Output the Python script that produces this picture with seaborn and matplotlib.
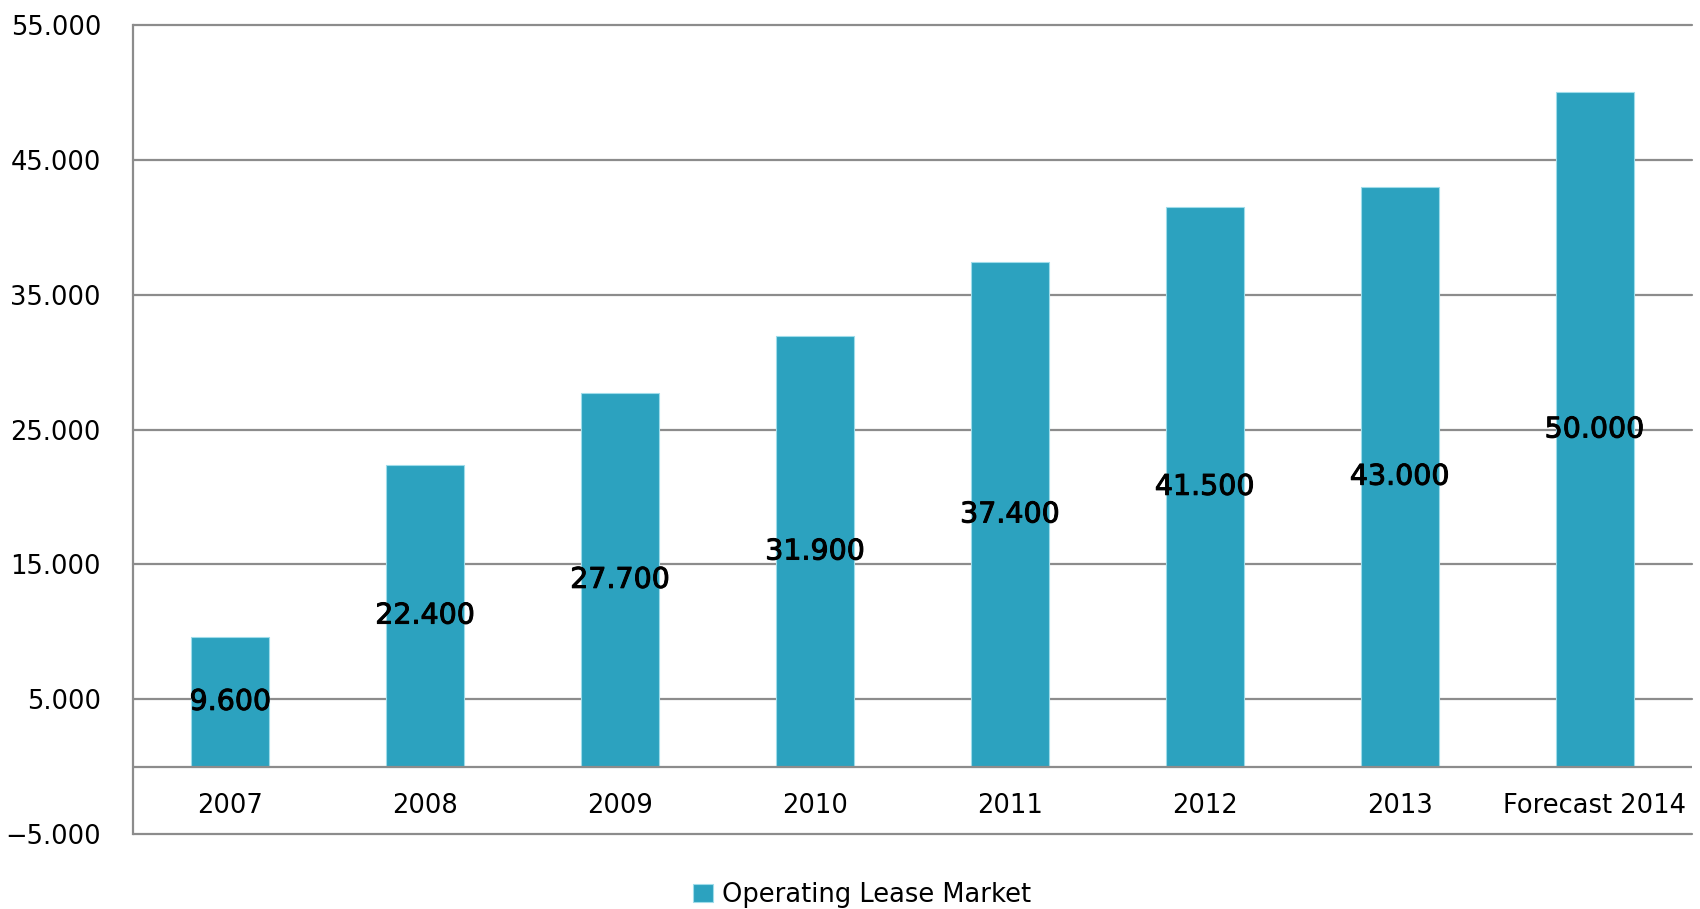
import pandas as pd
import matplotlib.pyplot as plt
import matplotlib.patheffects as pe
import seaborn as sns

# data
years = ['2007', '2008', '2009', '2010', '2011', '2012', '2013', 'Forecast 2014']
market = [9600, 22400, 27700, 31900, 37400, 41500, 43000, 50000]
y_ticks = [-5000, 5000, 15000, 25000, 35000, 45000, 55000]
series_name = 'Operating Lease Market'

bar_color = '#2ca2bf'
grid_color = '#8c8c8c'


def fmt(v):
    s = '{:,.0f}'.format(abs(v)).replace(',', '.')
    return ('\u2212' + s) if v < 0 else s


def main():
    sns.set_style('white')
    plt.rcParams['font.family'] = ['DejaVu Sans']
    plt.rcParams['text.color'] = 'black'

    df = pd.DataFrame({'year': years, 'value': market})

    fig = plt.figure(figsize=(17, 9.09), dpi=100)
    ax = fig.add_axes([0.0782, 0.0825, 0.9171, 0.89])

    sns.barplot(data=df, x='year', y='value', color=bar_color, width=0.4,
                saturation=1, edgecolor='#9fdcea', linewidth=0.8,
                label=series_name, ax=ax, zorder=3)

    ax.set_ylim(-5000, 55000)
    ax.set_xlim(-0.5, len(years) - 0.5)
    ax.set_yticks(y_ticks)
    ax.set_yticklabels([fmt(v) for v in y_ticks], fontsize=18.5, color='black')
    ax.tick_params(axis='y', length=0, pad=23)
    ax.set_xticks([])
    ax.set_xlabel('')
    ax.set_ylabel('')

    # grid lines and zero line
    for v in y_ticks:
        ax.axhline(v, color=grid_color, lw=1.6, zorder=1, clip_on=False)
    ax.axhline(0, color=grid_color, lw=1.6, zorder=4)

    for side in ['top', 'right', 'bottom']:
        ax.spines[side].set_visible(False)
    ax.spines['left'].set_color(grid_color)
    ax.spines['left'].set_linewidth(1.6)

    # category labels between the zero line and the bottom line
    for i, y in enumerate(years):
        ax.text(i, -2950, y, ha='center', va='center', fontsize=18.5,
                color='black')

    # value labels at the middle of each bar, slightly heavier
    texts = ax.bar_label(ax.containers[0], labels=[fmt(v) for v in market],
                         label_type='center', fontsize=20.5, color='black',
                         zorder=5)
    for t in texts:
        t.set_path_effects([pe.withStroke(linewidth=0.7, foreground='black')])

    ax.legend(loc='center', bbox_to_anchor=(862 / 1700, 1 - 895 / 909),
              bbox_transform=fig.transFigure, frameon=False, fontsize=18.5,
              handlelength=0.75, handleheight=0.75, handletextpad=0.35,
              borderpad=0, labelcolor='black')

    fig.savefig('out.png', dpi=100)


if __name__ == '__main__':
    main()
